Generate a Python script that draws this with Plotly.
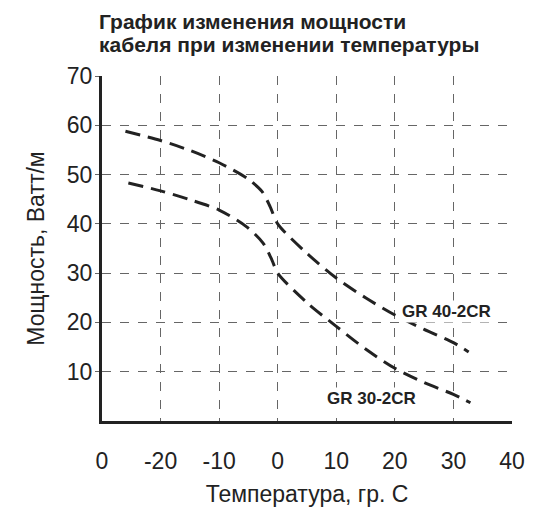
import plotly.graph_objects as go

FONT = "Liberation Sans, Arial, sans-serif"

# temperature (°C) and power (W/m)
temp_gr40 = [-26, -20, -15, -10, -5.3, -2.7, -1.3, 0, 5, 10, 15, 20, 25, 30, 32.6]
power_gr40 = [58.8, 56.9, 54.9, 52.4, 49.3, 46.6, 43.5, 40.0, 34.0, 29.0, 25.0, 21.5, 18.6, 15.9, 14.0]

temp_gr30 = [-25.5, -20, -15, -10, -5.3, -2.5, -1.0, 0, 5, 10, 15, 20, 25, 30, 32.9]
power_gr30 = [48.3, 46.7, 44.9, 42.8, 39.4, 36.1, 32.7, 30.0, 24.0, 19.2, 14.6, 10.7, 7.8, 5.4, 3.7]

x_tick_vals = [-30, -20, -10, 0, 10, 20, 30, 40]
x_tick_text = ["0", "-20", "-10", "0", "10", "20", "30", "40"]
y_tick_vals = [10, 20, 30, 40, 50, 60, 70]

title_lines = ["График изменения мощности", "кабеля при изменении температуры"]

fig = go.Figure()

for xs, ys, name in [(temp_gr40, power_gr40, "GR 40-2CR"), (temp_gr30, power_gr30, "GR 30-2CR")]:
    fig.add_trace(go.Scatter(
        x=xs, y=ys, mode="lines", name=name,
        line=dict(color="#222222", width=3, dash="15px,8px", shape="spline", smoothing=0.8),
        showlegend=False
    ))

fig.add_annotation(x=28.8, y=22.2, text="<b>GR 40-2CR</b>", showarrow=False,
                   font=dict(size=17, color="#222222", family=FONT), bgcolor="white")
fig.add_annotation(x=16, y=4.6, text="<b>GR 30-2CR</b>", showarrow=False,
                   font=dict(size=17, color="#222222", family=FONT), bgcolor="white")

# two-line title as separate annotations (tighter line spacing)
for i, line in enumerate(title_lines):
    fig.add_annotation(
        xref="paper", yref="paper", x=-0.013, y=(420 - 22 - 23 * i) / 344,
        xanchor="left", yanchor="middle", showarrow=False,
        text="<b>" + line + "</b>",
        font=dict(size=21, color="#222222", family=FONT)
    )

# the page body has an 8px margin, so the figure is a bit smaller than the window
fig.update_layout(
    width=526, height=519,
    margin=dict(l=94, r=22, t=68, b=106),
    paper_bgcolor="white", plot_bgcolor="white",
    font=dict(family=FONT, color="#222222"),
    xaxis=dict(
        range=[-30, 40], tickvals=x_tick_vals, ticktext=x_tick_text,
        showgrid=True, gridcolor="#666666", gridwidth=1, griddash="dash",
        showline=True, linecolor="#222222", linewidth=3,
        zeroline=False, ticks="", ticklabelstandoff=17, automargin=False,
        tickfont=dict(size=23, color="#222222"),
        title=dict(text="Температура, гр. C", font=dict(size=23, color="#222222"), standoff=14)
    ),
    yaxis=dict(
        range=[0, 70], tickvals=y_tick_vals,
        showgrid=True, gridcolor="#666666", gridwidth=1, griddash="dash",
        showline=True, linecolor="#222222", linewidth=3,
        zeroline=False, ticks="outside", ticklen=4, tickcolor="#666666", automargin=False,
        ticklabelstandoff=-2,
        tickfont=dict(size=23, color="#222222"),
        title=dict(text="Мощность, Ватт/м", font=dict(size=23, color="#222222"), standoff=16)
    ),
)

fig.write_html("out.html")
